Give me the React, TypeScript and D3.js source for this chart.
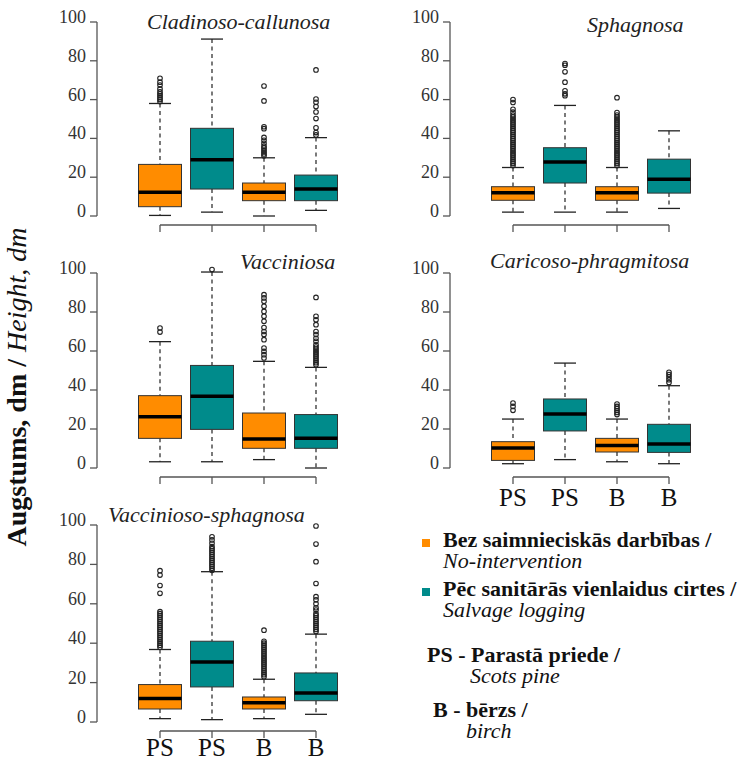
import * as d3 from 'd3';

// forest types (panel titles)
const forestTypes = [
  'Cladinoso-callunosa',
  'Sphagnosa',
  'Vacciniosa',
  'Caricoso-phragmitosa',
  'Vaccinioso-sphagnosa',
];

const species = ['PS', 'PS', 'B', 'B'];
const treatments = ['none', 'salvage', 'none', 'salvage'];
const yTicks = [0, 20, 40, 60, 80, 100];

// [lower whisker, q1, median, q3, upper whisker] per box, per forest type
const cladinosoStats = [
  [0.3, 4.8, 12.2, 26.6, 58],
  [2, 13.9, 29, 45.2, 91.2],
  [0, 7.9, 12.2, 17, 30],
  [2.9, 7.9, 13.9, 21.1, 40.4],
];
const cladinosoOut = [
  [59, 60, 61, 62, 63, 64, 65.5, 67.5, 69, 71],
  [],
  [31, 32, 33, 34, 35, 36, 37.5, 39, 40.5, 45, 46, 59.3, 67],
  [41.8, 43, 45.5, 50.2, 53.6, 56.4, 58.6, 60.3, 75.3],
];

const sphagnosaStats = [
  [2, 8.1, 12, 15.1, 25],
  [2, 17, 27.8, 35.2, 57],
  [2, 8.1, 12, 15.1, 25],
  [3.9, 11.8, 19, 29.3, 43.9],
];
const sphagnosaOut = [
  [26, 27, 28, 29, 30, 31, 32, 33, 34, 35, 36, 37, 38, 39, 40, 41, 42, 43, 44, 45, 46, 47, 48, 49, 50, 51, 52, 53.5, 55, 58.5, 60],
  [62, 63, 64.5, 69, 74.3, 77.7, 78.6],
  [26, 27, 28, 29, 30, 31, 32, 33, 34, 35, 36, 37, 38, 39, 40, 41, 42, 43, 44, 45, 46, 47, 48, 49, 50, 51, 52, 53.3, 61],
  [],
];

const vacciniosaStats = [
  [3.2, 15.2, 26.3, 37.1, 64.8],
  [3.2, 19.8, 36.8, 52.6, 100.5],
  [4.3, 10.1, 14.9, 28.2, 54.7],
  [0, 10.1, 15.2, 27.4, 51.6],
];
const vacciniosaOut = [
  [69.7, 71.8],
  [101.8],
  [56.4, 58.1, 59.8, 61.5, 65.8, 68.4, 70, 72, 75.2, 77.8, 80.3, 82.9, 85.5, 87.2, 88.9],
  [53, 54, 55, 56, 57, 58, 59, 60, 61, 62, 63.2, 65, 66.5, 68.4, 70, 73.5, 76, 77.8, 87.5],
];

const caricosoStats = [
  [2.2, 3.9, 10.3, 13.5, 25.1],
  [4.3, 19, 27.7, 35.4, 53.8],
  [3.2, 8.2, 11.6, 15.2, 25.1],
  [2.2, 8, 12.3, 22.4, 42.2],
];
const caricosoOut = [
  [29.6, 31.6, 33.3],
  [],
  [27.4, 28.5, 29.5, 30.5, 31.6, 32.8],
  [43.9, 45.3, 46.7, 47.9, 49.1],
];

const vacSphagStats = [
  [1.7, 6.6, 11.9, 19, 36.8],
  [1.2, 17.8, 30.5, 41, 76.3],
  [1.7, 6.6, 9.8, 12.7, 21.7],
  [3.9, 10.8, 14.7, 24.9, 44.6],
];
const vacSphagOut = [
  [38, 39, 40, 41, 42, 43, 44, 45, 46, 47, 48, 49, 50, 51, 52, 53, 54, 55, 56, 65.3, 69.3, 74.6, 76.8],
  [77, 78, 79, 80, 81, 82, 83, 84, 85, 86, 87, 88, 89, 90.7, 92.4, 94],
  [23, 24, 25, 26, 27, 28, 29, 30, 31, 32, 33, 34, 35, 36, 37, 38, 39, 40, 41, 46.6],
  [46, 47, 48, 49, 50, 51, 52, 53, 54, 55, 56.8, 58, 60, 62, 63.6, 70.3, 81.4, 90.3, 99.5],
];

const allStats = [cladinosoStats, sphagnosaStats, vacciniosaStats, caricosoStats, vacSphagStats];
const allOut = [cladinosoOut, sphagnosaOut, vacciniosaOut, caricosoOut, vacSphagOut];

// legend entries: bold Latvian line + italic English line
const legendLv = ['Bez saimnieciskās darbības /', 'Pēc sanitārās vienlaidus cirtes /', 'PS - Parastā priede /', 'B - bērzs /'];
const legendEn = ['No-intervention', 'Salvage logging', 'Scots pine', 'birch'];

// panel placement: axis x, pixel of 0, pixel of 100, title x / baseline, label baseline
const layout = [
  { ax: 97, y0: 216, y100: 22, tx: 147, ty: 29, ly: 0 },
  { ax: 450, y0: 216, y100: 22, tx: 587, ty: 32, ly: 0 },
  { ax: 97, y0: 468, y100: 273, tx: 240, ty: 269, ly: 0 },
  { ax: 450, y0: 468, y100: 273, tx: 490, ty: 268, ly: 506 },
  { ax: 97, y0: 722, y100: 525, tx: 108, ty: 522, ly: 756 },
];
// legend placement: x of bold line, x of italic line, first baseline, swatch key
const legendPos = [
  { x1: 443, x2: 443, y: 547, swatch: 'none' },
  { x1: 443, x2: 443, y: 596, swatch: 'salvage' },
  { x1: 427, x2: 470, y: 662, swatch: '' },
  { x1: 433, x2: 466, y: 717, swatch: '' },
];

const colors: Record<string, string> = { none: '#FF8C00', salvage: '#008B8B' };
const FONT = '"Liberation Serif", "Times New Roman", serif';
const AXIS = '#555';
const BOX_W = 43;
const CAP = 11;

function Panel({ i }: { i: number }) {
  const L = layout[i];
  const y = d3.scaleLinear().domain([0, 100]).range([L.y0, L.y100]);
  const x = d3.scalePoint<string>()
    .domain(species.map((_, k) => String(k)))
    .range([L.ax + 63, L.ax + 219]);
  const bracketY = L.y0 + 9;

  return (
    <g>
      <text x={L.tx} y={L.ty} fontFamily={FONT} fontStyle="italic" fontSize={22} fill="#222">
        {forestTypes[i]}
      </text>

      {/* y axis */}
      <line x1={L.ax} x2={L.ax} y1={y(0)} y2={y(100)} stroke={AXIS} strokeWidth={1.3} />
      {yTicks.map(t => (
        <g key={t}>
          <line x1={L.ax - 7} x2={L.ax} y1={y(t)} y2={y(t)} stroke={AXIS} strokeWidth={1.3} />
          <text x={L.ax - 11} y={y(t) + 1} textAnchor="end" fontFamily={FONT} fontSize={18} fill="#333">
            {t}
          </text>
        </g>
      ))}

      {/* bottom bracket */}
      <line x1={x('0')} x2={x('3')} y1={bracketY} y2={bracketY} stroke={AXIS} strokeWidth={1.3} />
      {species.map((s, k) => (
        <g key={k}>
          <line x1={x(String(k))} x2={x(String(k))} y1={bracketY} y2={bracketY + 7} stroke={AXIS} strokeWidth={1.3} />
          {L.ly > 0 && (
            <text x={x(String(k))} y={L.ly} textAnchor="middle" fontFamily={FONT} fontSize={25} fill="#111">
              {s}
            </text>
          )}
        </g>
      ))}

      {/* boxes */}
      {allStats[i].map((st, k) => {
        const cx = x(String(k)) as number;
        const [lo, q1, med, q3, hi] = st;
        return (
          <g key={k}>
            <line x1={cx} x2={cx} y1={y(hi)} y2={y(q3)} stroke="#222" strokeWidth={1.2} strokeDasharray="4,3.5" />
            <line x1={cx} x2={cx} y1={y(q1)} y2={y(lo)} stroke="#222" strokeWidth={1.2} strokeDasharray="4,3.5" />
            <line x1={cx - CAP} x2={cx + CAP} y1={y(hi)} y2={y(hi)} stroke="#222" strokeWidth={1.3} />
            <line x1={cx - CAP} x2={cx + CAP} y1={y(lo)} y2={y(lo)} stroke="#222" strokeWidth={1.3} />
            <rect x={cx - BOX_W / 2} y={y(q3)} width={BOX_W} height={y(q1) - y(q3)}
              fill={colors[treatments[k]]} stroke="#333" strokeWidth={1} />
            <line x1={cx - BOX_W / 2} x2={cx + BOX_W / 2} y1={y(med)} y2={y(med)} stroke="#000" strokeWidth={3.5} />
            {allOut[i][k].map((v, j) => (
              <circle key={j} cx={cx} cy={y(v)} r={2.3} fill="none" stroke="#222" strokeWidth={1.1} />
            ))}
          </g>
        );
      })}
    </g>
  );
}

export default function App() {
  return (
    <div style={{ position: 'absolute', left: 0, top: 0 }}>
      <svg width={748} height={761} style={{ display: 'block', background: '#fff' }}>
        {forestTypes.map((_, i) => <Panel key={i} i={i} />)}

        <text transform="translate(26,387) rotate(-90)" textAnchor="middle" fontFamily={FONT} fontSize={28} fill="#111">
          <tspan fontWeight="bold">Augstums, dm / </tspan>
          <tspan fontStyle="italic">Height, dm</tspan>
        </text>

        {/* legend */}
        <g fontFamily={FONT} fontSize={22} fill="#111">
          {legendPos.map((p, k) => (
            <g key={k}>
              {p.swatch && <rect x={422} y={p.y - 8} width={8} height={8} fill={colors[p.swatch]} />}
              <text>
                <tspan x={p.x1} y={p.y} fontWeight="bold">{legendLv[k]}</tspan>
                <tspan x={p.x2} y={p.y + 21} fontStyle="italic">{legendEn[k]}</tspan>
              </text>
            </g>
          ))}
        </g>
      </svg>
    </div>
  );
}
